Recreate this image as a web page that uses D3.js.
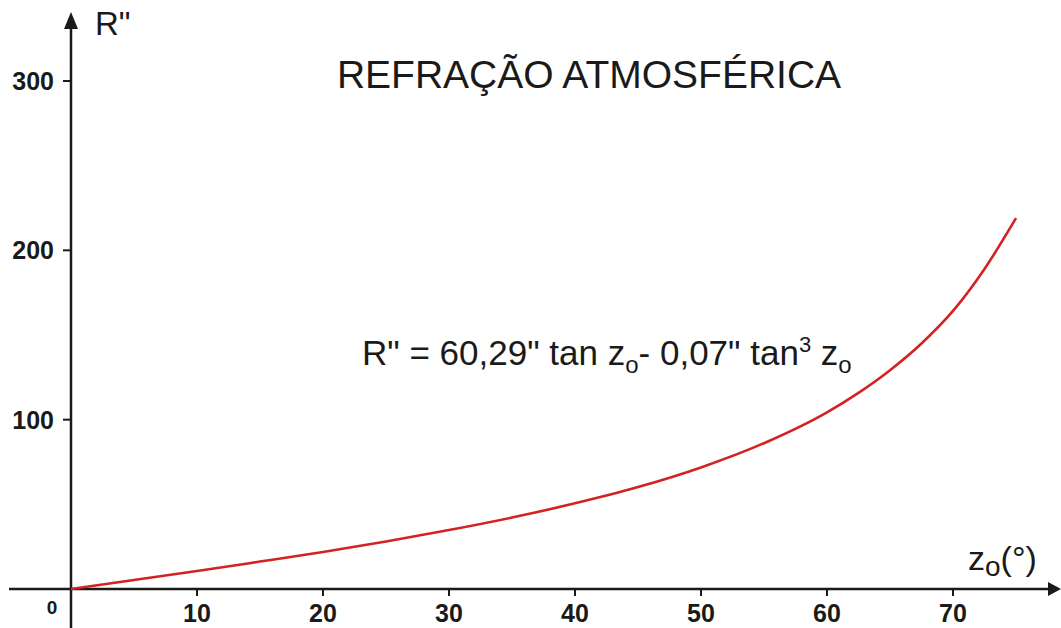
<!DOCTYPE html>
<html><head><meta charset="utf-8">
<script src="https://cdn.jsdelivr.net/npm/d3@7"></script>
<style>body{margin:0;background:#fff}svg{display:block}text{font-family:"Liberation Sans",Arial,sans-serif;fill:#1a1a1a}</style>
</head><body>
<svg id="c" width="1061" height="628"></svg>
<script>
// zenith distance (degrees) and refraction (arc-seconds)
const zenith = [0, 5, 10, 15, 20, 25, 30, 35, 40, 45, 50, 55, 60, 62.5, 65, 67.5, 70, 72.5, 75];
const refraction = [0, 5.3, 10.6, 16.2, 21.9, 28.1, 34.8, 42.2, 50.6, 60.2, 71.8, 86.1, 104.3, 115.8, 129.2, 145, 164.2, 189, 219];
const xTicks = [10, 20, 30, 40, 50, 60, 70];
const yTicks = [100, 200, 300];

const svg = d3.select("#c");
const x = d3.scaleLinear().domain([0, 70]).range([71, 953]);
const y = d3.scaleLinear().domain([0, 300]).range([589, 81]);
const ink = "#1a1a1a";

// axes lines
svg.append("line").attr("x1", 9).attr("x2", 1050).attr("y1", y(0)).attr("y2", y(0))
  .attr("stroke", ink).attr("stroke-width", 2.5);
svg.append("path").attr("d", `M1061,${y(0)} L1048,${y(0)-7} L1048,${y(0)+7} Z`).attr("fill", ink);
svg.append("line").attr("x1", x(0)).attr("x2", x(0)).attr("y1", 628).attr("y2", 26)
  .attr("stroke", ink).attr("stroke-width", 2.5);
svg.append("path").attr("d", `M${x(0)},12 L${x(0)-7},29 L${x(0)+7},29 Z`).attr("fill", ink);

// x ticks
const xg = svg.append("g");
xTicks.forEach(t => {
  xg.append("line").attr("x1", x(t)).attr("x2", x(t)).attr("y1", y(0)).attr("y2", y(0) + 7)
    .attr("stroke", ink).attr("stroke-width", 2);
  xg.append("text").attr("x", x(t)).attr("y", 622).attr("text-anchor", "middle")
    .attr("font-size", 25).attr("font-weight", "bold").text(t);
});
// y ticks
yTicks.forEach(t => {
  xg.append("line").attr("x1", x(0) - 8).attr("x2", x(0)).attr("y1", y(t)).attr("y2", y(t))
    .attr("stroke", ink).attr("stroke-width", 2);
  xg.append("text").attr("x", 54).attr("y", y(t) + 9).attr("text-anchor", "end")
    .attr("font-size", 25).attr("font-weight", "bold").text(t);
});
svg.append("text").attr("x", 52).attr("y", 614).attr("text-anchor", "middle")
  .attr("font-size", 19).attr("font-weight", "bold").text("0");

// curve
const pts = zenith.map((z, i) => [z, refraction[i]]);
svg.append("path").datum(pts)
  .attr("d", d3.line().x(d => x(d[0])).y(d => y(d[1])).curve(d3.curveMonotoneX))
  .attr("fill", "none").attr("stroke", "#d42222").attr("stroke-width", 2.6);

// labels
svg.append("text").attr("x", 95).attr("y", 35).attr("font-size", 33).text('R"');
const zl = svg.append("text").attr("x", 968).attr("y", 570).attr("font-size", 34);
zl.append("tspan").text("z");
zl.append("tspan").attr("font-size", 28).attr("dy", 6).text("o");
zl.append("tspan").attr("dy", -6).text("(°)");

svg.append("text").attr("x", 589).attr("y", 88).attr("text-anchor", "middle")
  .attr("font-size", 39).text("REFRAÇÃO ATMOSFÉRICA");

const f = svg.append("text").attr("x", 362).attr("y", 365).attr("font-size", 35);
f.append("tspan").text('R" = 60,29" tan z');
f.append("tspan").attr("font-size", 24).attr("dy", 8).text("o");
f.append("tspan").attr("dy", -8).text('- 0,07" tan');
f.append("tspan").attr("font-size", 22).attr("dy", -13).text("3");
f.append("tspan").attr("dy", 13).text(" z");
f.append("tspan").attr("font-size", 24).attr("dy", 8).text("o");
</script>
</body></html>
